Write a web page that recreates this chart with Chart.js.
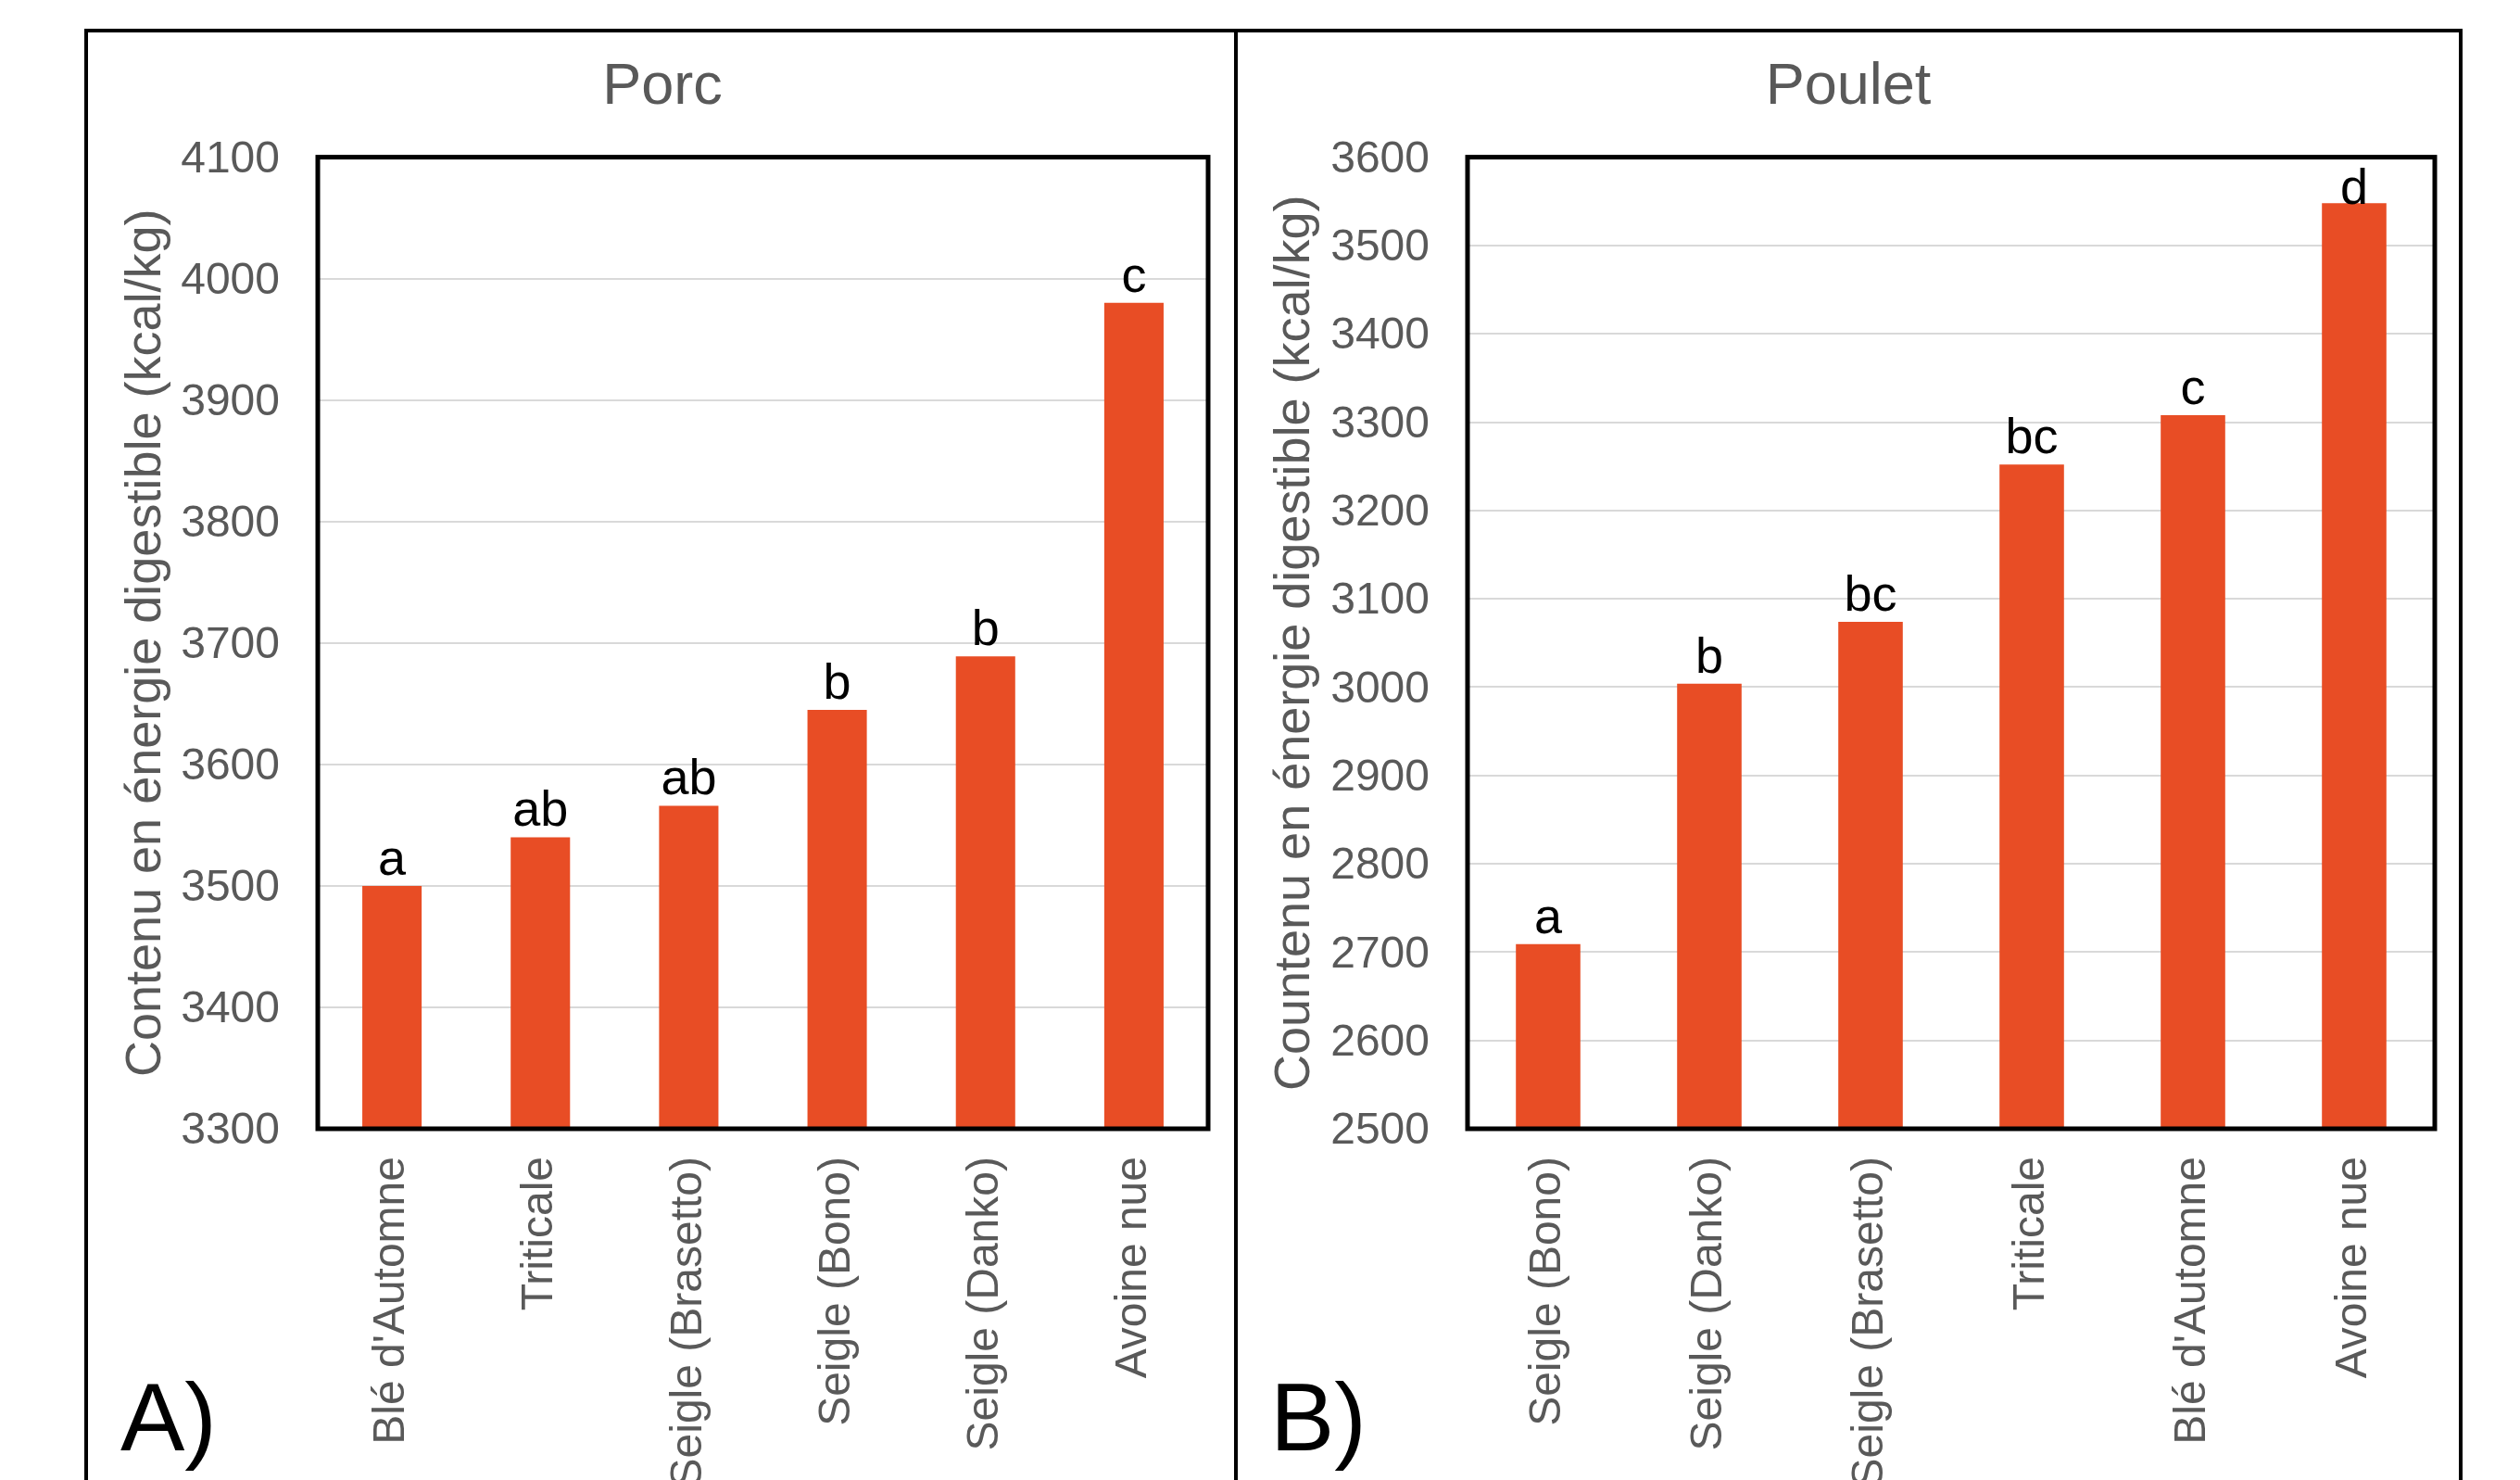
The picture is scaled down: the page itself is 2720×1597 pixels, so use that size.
<!DOCTYPE html>
<html>
<head>
<meta charset="utf-8">
<title>Porc / Poulet</title>
<script src="https://cdn.jsdelivr.net/npm/chart.js@4.4.1/dist/chart.umd.min.js"></script>
<style>
  html, body { margin: 0; padding: 0; background: #fff; overflow: hidden; }
  body { width: 2720px; height: 1597px; position: relative; }
  canvas { position: absolute; top: 0; }
  .line { position: absolute; background: #000; }
  .tag { position: absolute; font: 104px 'Liberation Sans', Arial, sans-serif; line-height: 104px; color: #000; }
</style>
</head>
<body>
<canvas id="porc" width="1334" height="1800" style="left:0"></canvas>
<canvas id="poulet" width="1386" height="1800" style="left:1334px"></canvas>
<div class="line" style="left:91px;top:31px;width:2567px;height:4px"></div>
<div class="line" style="left:91px;top:31px;width:4px;height:1566px"></div>
<div class="line" style="left:1332px;top:31px;width:4px;height:1566px"></div>
<div class="line" style="left:2654px;top:31px;width:4px;height:1566px"></div>
<div class="tag" style="left:130px;top:1477px">A)</div>
<div class="tag" style="left:1371px;top:1477px">B)</div>
<script>
// A) Porc
const porcLabels = ["Blé d'Automne", 'Triticale', 'Seigle (Brasetto)', 'Seigle (Bono)', 'Seigle (Danko)', 'Avoine nue'];
const porcValues = [3500, 3540, 3566, 3645, 3689, 3980];
const porcLetters = ['a', 'ab', 'ab', 'b', 'b', 'c'];
const porcTicks = [3300, 3400, 3500, 3600, 3700, 3800, 3900, 4000, 4100];

// B) Poulet
const pouletLabels = ['Seigle (Bono)', 'Seigle (Danko)', 'Seigle (Brasetto)', 'Triticale', "Blé d'Automne", 'Avoine nue'];
const pouletValues = [2709, 3004, 3074, 3252, 3308, 3548];
const pouletLetters = ['a', 'b', 'bc', 'bc', 'c', 'd'];
const pouletTicks = [2500, 2600, 2700, 2800, 2900, 3000, 3100, 3200, 3300, 3400, 3500, 3600];

Chart.defaults.font.family = "'Liberation Sans', Arial, sans-serif";
const grey = '#595959';

// black box round the plot area
const frameBox = {
  id: 'frameBox',
  afterDraw(chart) {
    const { ctx, chartArea: a } = chart;
    ctx.save();
    ctx.strokeStyle = '#000';
    ctx.lineWidth = 5;
    ctx.strokeRect(a.left, a.top, a.right - a.left, a.bottom - a.top);
    ctx.restore();
  }
};

// significance letters above each bar
const letterLabels = {
  id: 'letterLabels',
  afterDatasetsDraw(chart, args, opts) {
    const { ctx, chartArea } = chart;
    const bars = chart.getDatasetMeta(0).data;
    ctx.save();
    ctx.font = "54px 'Liberation Sans', Arial, sans-serif";
    ctx.fillStyle = '#000';
    ctx.textAlign = 'center';
    ctx.textBaseline = 'alphabetic';
    bars.forEach((bar, i) => {
      const y = Math.max(bar.y - 12, chartArea.top + 50);
      ctx.fillText(opts.letters[i], bar.x, y);
    });
    ctx.restore();
  }
};

function makeChart(id, title, labels, values, letters, ticks, axisTitle, geom) {
  return new Chart(document.getElementById(id), {
    type: 'bar',
    data: {
      labels: labels,
      datasets: [{
        data: values,
        backgroundColor: '#E84D25',
        borderWidth: 0,
        barPercentage: 0.8,
        categoryPercentage: 0.5
      }]
    },
    options: {
      responsive: false,
      animation: false,
      layout: { padding: { left: geom.padL, right: geom.padR, top: 0, bottom: 0 } },
      plugins: {
        legend: { display: false },
        tooltip: { enabled: false },
        title: {
          display: true,
          text: title,
          color: grey,
          font: { size: 63, weight: 'normal' },
          padding: { top: 57, bottom: 37 }
        },
        letterLabels: { letters: letters }
      },
      scales: {
        x: {
          grid: { display: false, drawTicks: false },
          border: { display: false },
          ticks: {
            color: grey,
            font: { size: 48 },
            minRotation: 90,
            maxRotation: 90,
            autoSkip: false,
            padding: 30
          },
          afterFit(scale) { scale.height = 1800 - 1218; }
        },
        y: {
          min: ticks[0],
          max: ticks[ticks.length - 1],
          grid: { color: '#D9D9D9', lineWidth: 2, drawTicks: false },
          border: { display: false },
          ticks: {
            stepSize: ticks[1] - ticks[0],
            color: grey,
            font: { size: 48 },
            padding: 41,
            labelOffset: 3,
            callback: v => String(v)
          },
          title: {
            display: true,
            text: axisTitle,
            color: grey,
            font: { size: 54 },
            padding: { top: geom.titlePad, bottom: 0 }
          },
          afterFit(scale) { scale.width = geom.yWidth; }
        }
      }
    },
    plugins: [frameBox, letterLabels]
  });
}

makeChart('porc', 'Porc', porcLabels, porcValues, porcLetters, porcTicks,
  'Contenu en énergie digestible (kcal/kg)',
  { padL: 126, padR: 30, yWidth: 217, titlePad: 0 });

makeChart('poulet', 'Poulet', pouletLabels, pouletValues, pouletLetters, pouletTicks,
  'Countenu en énergie digestible (kcal/kg)',
  { padL: 28, padR: 92, yWidth: 222, titlePad: 4 });
</script>
</body>
</html>
